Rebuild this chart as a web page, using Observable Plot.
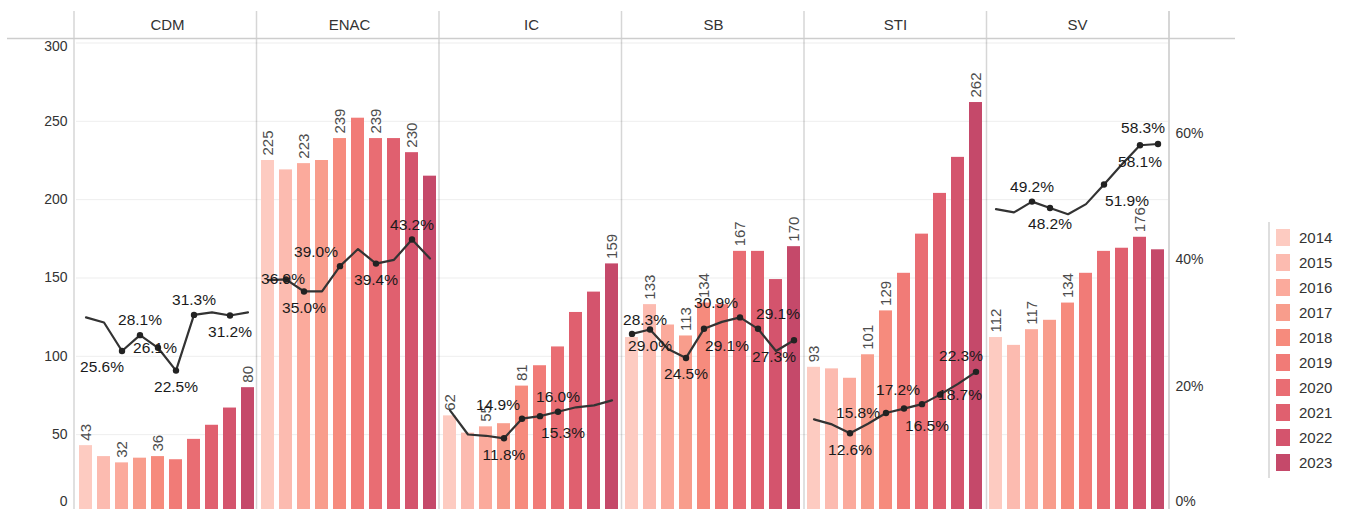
<!DOCTYPE html>
<html>
<head>
<meta charset="utf-8">
<script src="https://cdn.jsdelivr.net/npm/d3@7"></script>
<script src="https://cdn.jsdelivr.net/npm/@observablehq/plot@0.6"></script>
<style>
  body { margin: 0; background: #fff; overflow: hidden; }
  #wrap { position: relative; width: 1348px; height: 509px; overflow: hidden; }
  #wrap > * { position: absolute; }
  #legendBorder { left: 1268px; top: 222px; width: 2px; height: 256px; background: #dedede; }
</style>
</head>
<body>
<div id="wrap"><div id="legendBorder"></div></div>
<script>
// ---- data ----
const depts = ["CDM", "ENAC", "IC", "SB", "STI", "SV"];
const years = ["2014", "2015", "2016", "2017", "2018", "2019", "2020", "2021", "2022", "2023"];
const yearColors = ["#fdcbc1", "#fcbbb0", "#fbaa9c", "#f89d8c", "#f68b7d", "#f17b77", "#e96d73", "#e0606f", "#d4546d", "#c5496a"];

// bar values (count)
const cdmCounts  = [43, 36, 32, 35, 36, 34, 47, 56, 67, 80];
const enacCounts = [225, 219, 223, 225, 239, 252, 239, 239, 230, 215];
const icCounts   = [62, 51, 55, 57, 81, 94, 106, 128, 141, 159];
const sbCounts   = [112, 133, 120, 113, 134, 133, 167, 167, 149, 170];
const stiCounts  = [93, 92, 86, 101, 129, 153, 178, 204, 227, 262];
const svCounts   = [112, 107, 117, 123, 134, 153, 167, 169, 176, 168];

// line values (percent)
const cdmPct  = [30.9, 30.1, 25.6, 28.1, 26.1, 22.5, 31.3, 31.7, 31.2, 31.7];
const enacPct = [36.8, 36.9, 35.0, 35.0, 39.0, 41.7, 39.4, 40.0, 43.2, 40.2];
const icPct   = [16.2, 12.4, 12.2, 11.8, 14.9, 15.3, 16.0, 16.7, 17.0, 17.8];
const sbPct   = [28.3, 29.0, 25.9, 24.5, 29.1, 30.2, 30.9, 29.1, 25.6, 27.3];
const stiPct  = [14.8, 14.0, 12.6, 14.1, 15.8, 16.5, 17.2, 18.7, 20.4, 22.3];
const svPct   = [48.0, 47.5, 49.2, 48.2, 47.2, 48.8, 51.9, 55.1, 58.1, 58.3];

// which bar values are labelled (1 = shown)
const cdmBarLab  = [1, 0, 1, 0, 1, 0, 0, 0, 0, 1];
const enacBarLab = [1, 0, 1, 0, 1, 0, 1, 0, 1, 0];
const icBarLab   = [1, 0, 1, 0, 1, 0, 0, 0, 0, 1];
const sbBarLab   = [0, 1, 0, 1, 1, 0, 1, 0, 0, 1];
const stiBarLab  = [1, 0, 0, 1, 1, 0, 0, 0, 0, 1];
const svBarLab   = [1, 0, 1, 0, 1, 0, 0, 0, 1, 0];

// which percent values are labelled, and label placement code
const cdmPctLab  = [null, null, "bl", "a", "c", "b", "a", null, "b", null];
const enacPctLab = [null, "c", "b", null, "al", null, "b", null, "a", null];
const icPctLab   = [null, null, null, "b", "al", "br", "a", null, null, null];
const sbPctLab   = ["aR", "b", null, "b", "br", null, "al", "ar", null, "bl"];
const stiPctLab  = [null, null, "b", null, "cl", "br", "al", "cr", null, "aL"];
const svPctLab   = [null, null, "a", "b", null, null, "br", null, "b", "aL"];

// ---- styling (offsets of percent labels by placement code) ----
const placements = {
  a: [0, -15], b: [0, 16.5], c: [-3, 0],
  al: [-24, -14], ar: [20, -15], aL: [-15, -15.5], aR: [13, -14],
  bl: [-20, 16.5], br: [23, 17], cl: [-28, 0], cr: [20, 0]
};

const countsList = [cdmCounts, enacCounts, icCounts, sbCounts, stiCounts, svCounts];
const pctList = [cdmPct, enacPct, icPct, sbPct, stiPct, svPct];
const barLabList = [cdmBarLab, enacBarLab, icBarLab, sbBarLab, stiBarLab, svBarLab];
const pctLabList = [cdmPctLab, enacPctLab, icPctLab, sbPctLab, stiPctLab, svPctLab];

const rows = depts.flatMap((dept, i) => years.map((year, j) => ({
  dept, year,
  count: countsList[i][j],
  pct: pctList[i][j],
  barLab: barLabList[i][j],
  pctLab: pctLabList[i][j]
})));

// dual axis: percent mapped into count units
const K = 4.04; // count units per 1 %
const pctY = d => d.pct * K;

const font = "'Liberation Sans', Arial, sans-serif";

const pctTextMarks = Object.entries(placements).map(([code, [dx, dy]]) =>
  Plot.text(rows.filter(r => r.pctLab === code), {
    fx: "dept", x: "year", y: pctY,
    text: d => d.pct.toFixed(1) + "%",
    dx, dy, fontSize: 15.5, fill: "#1a1a1a"
  })
);

const plot = Plot.plot({
  width: 1348, height: 509,
  marginLeft: 74, marginRight: 179, marginTop: 42.5, marginBottom: 0,
  style: { fontFamily: font, background: "transparent" },
  fx: { domain: depts, padding: 0, label: null },
  x: { type: "band", domain: years, paddingInner: 0.27, paddingOuter: 0.14, axis: null },
  y: { domain: [0, 300], range: [512.5, 42.5] },
  color: { type: "ordinal", domain: years, range: yearColors },
  marks: [
    Plot.gridY({ ticks: [0, 50, 100, 150, 200, 250, 300], stroke: "#000", strokeOpacity: 0.07 }),
    Plot.axisFx({ anchor: "top", tickSize: 0, tickPadding: 13.5, fontSize: 15, color: "#333", label: null }),
    Plot.axisY({ anchor: "left", ticks: [50, 100, 150, 200, 250], tickSize: 0, tickPadding: 9, fontSize: 14, color: "#333", label: null }),
    Plot.axisY({ anchor: "left", ticks: [300], tickSize: 0, tickPadding: 9, dy: 4, fontSize: 14, color: "#333", label: null }),
    Plot.axisY({ anchor: "left", ticks: [0], tickSize: 0, tickPadding: 9, dy: -11, fontSize: 14, color: "#333", label: null }),
    Plot.axisY({ anchor: "right", ticks: [20, 40, 60].map(p => p * K), tickFormat: v => Math.round(v / K) + "%", tickSize: 0, tickPadding: 7, fontSize: 14, color: "#333", label: null }),
    Plot.axisY({ anchor: "right", ticks: [0], tickFormat: () => "0%", tickSize: 0, tickPadding: 7, dy: -11, fontSize: 14, color: "#333", label: null }),
    Plot.barY(rows, { fx: "dept", x: "year", y: "count", fill: "year" }),
    Plot.text(rows.filter(r => r.barLab), {
      fx: "dept", x: "year", y: "count", text: d => String(d.count),
      rotate: -90, textAnchor: "start", dy: -5, fontSize: 15, fill: "#4d4d4d"
    }),
    Plot.line(rows, { fx: "dept", x: "year", y: pctY, stroke: "#333", strokeWidth: 2.2 }),
    Plot.dot(rows.filter(r => r.pctLab), { fx: "dept", x: "year", y: pctY, r: 3.2, fill: "#222", stroke: "none" }),
    ...pctTextMarks
  ]
});

// panel separators and header rule (layout decoration)
const svg = d3.select(plot);
const deco = svg.insert("g", ":first-child").attr("stroke", "#d6d6d6").attr("fill", "none");
const step = (1348 - 74 - 179) / depts.length;
for (let i = 0; i <= depts.length; i++) {
  const x = 74 + i * step;
  deco.append("line").attr("x1", x).attr("x2", x).attr("y1", 11).attr("y2", 509).attr("stroke-width", i === depts.length ? 2 : 1.5);
}
deco.append("line").attr("x1", 7).attr("x2", 1235).attr("y1", 38.5).attr("y2", 38.5).attr("stroke", "#cdcdcd").attr("stroke-width", 1.5);

plot.style.left = "0px";
plot.style.top = "0px";
document.getElementById("wrap").appendChild(plot);

// legend
const legend = Plot.plot({
  width: 90, height: 280,
  margin: 0,
  style: { fontFamily: font, background: "transparent" },
  x: { type: "band", domain: ["s"], range: [12, 29], axis: null },
  y: { type: "band", domain: years, range: [13, 267.2], paddingInner: 0.33, paddingOuter: 0.165, axis: null },
  color: { type: "ordinal", domain: years, range: yearColors },
  marks: [
    Plot.cell(years, { x: () => "s", y: d => d, fill: d => d }),
    Plot.text(years, { x: () => "s", y: d => d, text: d => d, dx: 15.5, textAnchor: "start", fontSize: 15, fill: "#333" })
  ]
});
legend.style.left = "1262px";
legend.style.top = "210px";
document.getElementById("wrap").appendChild(legend);
</script>
</body>
</html>
